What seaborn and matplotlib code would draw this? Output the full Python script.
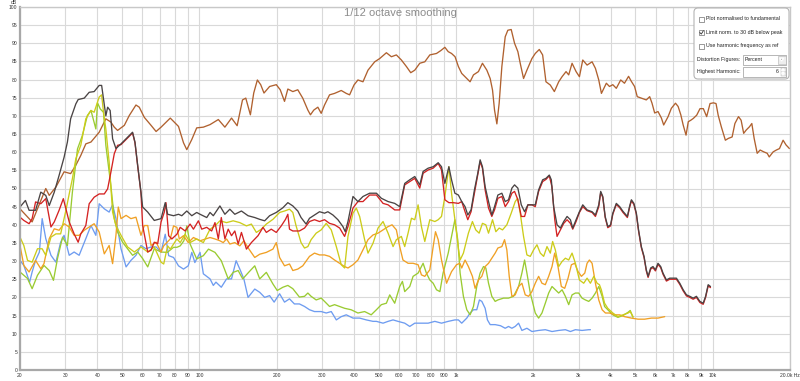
import matplotlib
matplotlib.use('Agg')
import matplotlib.pyplot as plt
from matplotlib.patches import FancyBboxPatch, Rectangle, Polygon
from matplotlib.ticker import NullLocator
import pandas as pd
import seaborn as sns

# (frequency Hz, level dB)
FUND = [(20, 44.4), (22.3, 40.8), (25.2, 50.0), (26.0, 48.1), (27.6, 50.4), (29.7, 54.6), (31.5, 54.1),
        (33.0, 56.4), (34.5, 59.1), (36.1, 62.3), (37.8, 62.8), (40.7, 65.5), (43.2, 69.2), (45.2, 68.3),
        (46.6, 66.9), (48.0, 66.0), (51.0, 67.4), (53.3, 70.1), (56.6, 73.0), (58.3, 72.4), (61.0, 69.6),
        (64.8, 67.4), (67.8, 65.7), (70.9, 66.9), (77.0, 69.4), (82.9, 67.1), (86.7, 62.6), (89.3, 60.7),
        (93.4, 63.5), (97.6, 66.7), (103.6, 66.9), (110, 67.6), (118.5, 69.0), (125.7, 66.9), (133.4, 69.4),
        (140.3, 67.3), (147.2, 74.4), (151.6, 74.9), (158, 70.3), (162.8, 76.3), (168.2, 79.9), (173.3, 78.6),
        (178.5, 76.3), (187.7, 78.1), (199.3, 78.6), (206.5, 77.2), (214.6, 74.0), (221.1, 77.4), (231.2, 76.7),
        (241.7, 77.2), (252.7, 74.9), (264.6, 71.6), (270.8, 70.3), (279.0, 71.6), (289.4, 72.4), (298.2, 70.7),
        (307.3, 73.0), (321.4, 75.8), (336.2, 76.2), (357.0, 77.0), (373.4, 76.2), (384.8, 75.8), (400.1, 78.5),
        (414.6, 79.9), (433.8, 79.4), (453.8, 82.6), (481.9, 84.9), (504.0, 85.8), (535.2, 87.4), (559.8, 86.3),
        (585.3, 86.8), (612.2, 85.4), (640.5, 83.6), (665.9, 81.9), (690.4, 82.6), (722.1, 84.5), (755.3, 84.9),
        (790.2, 86.8), (839.1, 87.2), (872.3, 88.0), (904.4, 88.9), (932.0, 87.7), (960.2, 87.2), (991, 86.3),
        (1021, 83.6), (1052, 81.7), (1101, 80.3), (1134, 79.4), (1169, 81.3), (1222, 82.2), (1267, 84.5),
        (1318, 82.6), (1358, 80.3), (1387, 77.1), (1412, 71.6), (1442, 67.8), (1472, 73.5), (1508, 83.6),
        (1554, 91.8), (1591, 93.6), (1640, 93.8), (1690, 90.0), (1741, 87.7), (1778, 84.5), (1832, 80.3),
        (1888, 82.6), (1975, 85.8), (2035, 87.2), (2110, 88.3), (2174, 86.8), (2240, 79.4), (2329, 78.5),
        (2415, 76.7), (2511, 79.4), (2588, 80.8), (2682, 82.2), (2747, 81.3), (2831, 84.5), (2935, 82.2),
        (3024, 80.8), (3116, 85.4), (3239, 84.0), (3388, 84.9), (3491, 83.1), (3597, 79.9), (3684, 76.2),
        (3850, 79.0), (3960, 78.1), (4080, 78.6), (4210, 77.6), (4380, 79.9), (4530, 79.0), (4700, 80.9),
        (4820, 79.5), (4960, 78.1), (5080, 75.3), (5270, 74.9), (5510, 74.4), (5680, 75.3), (5800, 73.5),
        (5940, 70.8), (6120, 71.2), (6310, 69.4), (6440, 67.5), (6700, 69.8), (6900, 72.1), (7160, 73.5),
        (7330, 72.6), (7510, 70.3), (7670, 67.5), (7870, 64.7), (8030, 68.4), (8210, 68.8), (8400, 69.3),
        (8660, 70.2), (8920, 72.0), (9190, 72.0), (9470, 69.8), (9760, 73.4), (10060, 73.6), (10300, 73.4),
        (10500, 70.2), (10800, 67.0), (11200, 63.3), (11500, 63.8), (11900, 64.2), (12200, 67.9), (12600, 69.8),
        (12900, 68.8), (13200, 65.2), (13500, 66.1), (13900, 67.0), (14200, 67.9), (14500, 63.8), (14900, 59.7),
        (15300, 60.6), (15800, 60.1), (16300, 59.7), (16600, 58.7), (17200, 60.1), (17700, 60.6), (18200, 61.0),
        (18800, 63.3), (19300, 62.0), (19900, 61.0)]

THD = [(20, 44.9), (21.0, 46.7), (21.7, 44.0), (23.0, 44.0), (24.1, 49.0), (25.2, 48.1), (26.0, 45.3),
       (27.2, 49.0), (28.4, 53.6), (29.7, 58.6), (30.6, 62.8), (31.5, 69.2), (33.0, 73.3), (33.7, 74.5),
       (35.6, 74.9), (37.2, 76.5), (38.9, 76.7), (40.7, 78.4), (41.6, 78.4), (42.3, 74.7), (43.2, 70.0),
       (43.9, 72.4), (44.9, 71.5), (45.9, 63.7), (47.3, 61.0), (49.5, 62.3), (51.8, 63.7), (54.9, 65.5),
       (56.1, 62.8), (57.5, 56.3), (59.2, 49.0), (60.1, 44.9), (62.9, 43.5), (66.7, 41.2), (70.9, 41.7),
       (73.6, 46.1), (75.2, 42.9), (79.3, 42.5), (82.9, 42.9), (85.4, 42.5), (89.3, 43.8), (93.4, 42.5),
       (97.6, 43.4), (100.6, 42.9), (106.8, 42.0), (110, 43.4), (113.3, 42.5), (120.2, 45.2), (125.7, 42.9),
       (131.4, 44.3), (137.4, 42.9), (145.8, 43.8), (154.7, 42.5), (164.3, 42.0), (171.8, 41.5), (179.6, 41.1),
       (187.7, 42.5), (199.3, 43.4), (211.5, 44.7), (221.1, 46.1), (231.2, 45.2), (241.7, 43.8), (248.9, 42.0),
       (260.4, 40.2), (268.5, 41.8), (280.8, 42.7), (293.8, 43.6), (307.3, 43.2), (316.6, 43.6), (331.3, 42.7),
       (346.5, 41.4), (362.5, 39.5), (370.0, 38.1), (379.2, 40.9), (396.6, 47.8), (414.6, 46.4), (433.8, 47.8),
       (460.6, 48.7), (489.4, 48.7), (511.6, 47.3), (543.4, 46.4), (576.7, 45.9), (603.2, 45.0), (630.9, 51.4),
       (660.0, 52.4), (690.4, 53.3), (722.1, 51.0), (744.0, 54.7), (778.4, 55.6), (814.3, 56.0), (851.8, 57.1),
       (877.6, 56.0), (904.4, 51.4), (937.5, 56.0), (960.2, 52.4), (989.4, 48.7), (1021, 48.2), (1052, 46.4),
       (1084, 45.0), (1111, 42.7), (1144, 44.1), (1179, 49.6), (1215, 54.2), (1241, 57.9), (1267, 56.0),
       (1298, 50.5), (1338, 46.4), (1378, 42.7), (1412, 45.0), (1455, 48.2), (1508, 48.7), (1554, 46.4),
       (1601, 46.9), (1650, 50.1), (1690, 51.0), (1741, 50.1), (1795, 45.5), (1849, 43.6), (1905, 45.5),
       (1975, 45.5), (2035, 45.5), (2097, 49.6), (2174, 52.4), (2240, 52.8), (2308, 53.7), (2350, 52.4),
       (2400, 45.0), (2474, 40.0), (2549, 39.1), (2627, 40.9), (2707, 42.3), (2789, 41.4), (2848, 39.1),
       (2935, 41.4), (3024, 43.6), (3116, 45.5), (3239, 44.1), (3388, 43.6), (3491, 42.7), (3597, 45.5),
       (3660, 49.2), (3730, 47.8), (3810, 42.3), (3900, 39.5), (4000, 40.0), (4080, 43.2), (4210, 45.9),
       (4340, 45.0), (4470, 43.7), (4650, 42.3), (4740, 45.0), (4820, 46.9), (4930, 45.9), (5040, 43.2),
       (5140, 38.6), (5270, 34.0), (5400, 31.3), (5510, 27.6), (5600, 25.8), (5730, 28.1), (5850, 28.5),
       (5980, 27.6), (6120, 29.4), (6270, 28.5), (6400, 26.7), (6600, 24.8), (6800, 25.3), (7010, 25.3),
       (7220, 25.3), (7440, 23.9), (7670, 22.1), (7900, 20.7), (8140, 20.3), (8390, 19.8), (8640, 20.3),
       (8910, 18.9), (9180, 18.4), (9380, 20.3), (9600, 23.5), (9800, 23.0)]

H2 = [(20, 42.1), (20.7, 41.2), (21.7, 40.3), (22.3, 41.7), (23.0, 46.3), (24.1, 45.8), (25.2, 47.2),
      (26.4, 39.4), (27.2, 40.8), (28.4, 44.0), (29.5, 47.2), (30.2, 44.4), (31.1, 40.8), (32.5, 37.5),
      (33.7, 35.2), (34.5, 37.5), (36.1, 39.8), (37.2, 45.8), (38.9, 47.6), (40.7, 48.5), (42.6, 48.5),
      (43.9, 49.9), (45.2, 54.5), (46.6, 59.6), (48.0, 61.9), (49.5, 62.1), (51.8, 63.5), (54.9, 65.3),
      (56.1, 62.6), (57.5, 56.1), (59.2, 48.8), (60.1, 39.8), (62.9, 32.5), (64.8, 33.0), (66.7, 35.2),
      (68.8, 34.8), (70.9, 40.8), (73.0, 43.5), (74.1, 46.1), (75.9, 37.0), (78.1, 36.1), (81.7, 37.4),
      (84.2, 39.3), (88.0, 38.3), (92.0, 40.2), (94.8, 38.8), (99.1, 41.1), (102.1, 38.8), (106.8, 39.3),
      (111.6, 38.3), (115, 40.6), (118.5, 36.1), (121.7, 42.0), (125.7, 36.1), (129.5, 38.8), (133.4, 37.0),
      (137.4, 38.3), (141.6, 34.7), (145.8, 37.9), (152.5, 33.3), (159.4, 35.1), (169.2, 37.0), (176.9, 39.3),
      (182.3, 37.9), (190.5, 38.8), (199.3, 37.9), (208.4, 39.7), (216.5, 41.5), (221.1, 42.9), (224.4, 38.8),
      (231.2, 38.3), (245.3, 38.3), (256.8, 39.1), (268.5, 40.9), (280.8, 41.4), (293.8, 40.9), (307.3, 41.4),
      (321.4, 40.4), (336.2, 40.0), (352, 39.1), (367.9, 36.8), (379.2, 39.5), (396.6, 44.6), (414.6, 46.4),
      (433.8, 46.4), (460.6, 48.2), (489.4, 48.2), (519.4, 45.9), (543.4, 45.5), (576.7, 44.1), (603.2, 44.1),
      (630.9, 51.0), (660.0, 51.9), (690.4, 52.8), (722.1, 50.1), (744.0, 54.2), (778.4, 55.1), (814.3, 55.6),
      (851.8, 56.9), (877.6, 55.1), (904.4, 46.9), (937.5, 46.1), (975, 46.1), (1021, 45.9), (1052, 46.4),
      (1084, 43.6), (1111, 41.4), (1144, 43.6), (1179, 48.7), (1215, 53.7), (1241, 57.4), (1267, 55.6),
      (1298, 49.6), (1338, 44.6), (1378, 42.3), (1412, 44.1), (1455, 47.3), (1508, 47.8), (1554, 45.0),
      (1601, 46.4), (1650, 48.7), (1690, 49.2), (1741, 46.9), (1795, 42.3), (1849, 42.3), (1905, 45.5),
      (1975, 45.5), (2035, 45.0), (2097, 49.2), (2174, 51.9), (2240, 52.5), (2308, 53.5), (2363, 50.5),
      (2424, 41.4), (2474, 36.8), (2549, 38.6), (2627, 40.4), (2707, 41.4), (2789, 40.4), (2848, 38.8),
      (2935, 40.9), (3024, 43.4), (3116, 45.0), (3239, 43.9), (3388, 43.4), (3491, 42.3), (3597, 45.0),
      (3660, 48.9), (3730, 47.5), (3810, 42.0), (3900, 39.2), (4000, 39.7), (4080, 42.9), (4210, 45.6),
      (4340, 44.7), (4470, 43.4), (4650, 42.0), (4740, 44.7), (4820, 46.6), (4930, 45.6), (5040, 42.9),
      (5140, 38.3), (5270, 33.7), (5400, 31.0), (5510, 27.3), (5600, 25.5), (5730, 27.8), (5850, 28.2),
      (5980, 27.3), (6120, 29.1), (6270, 28.2), (6400, 26.4), (6600, 24.5), (6800, 25.0), (7010, 25.0),
      (7220, 25.0), (7440, 23.6), (7670, 21.8), (7900, 20.4), (8140, 20.0), (8390, 19.5), (8640, 20.0),
      (8910, 18.6), (9180, 18.1), (9380, 20.0), (9600, 23.2), (9800, 22.7)]

H3 = [(20, 36.6), (20.7, 34.3), (21.4, 30.2), (22.3, 29.7), (23.4, 33.4), (24.4, 33.4), (25.2, 31.6),
      (26.4, 36.6), (27.6, 37.5), (28.8, 37.5), (30.2, 44.0), (31.1, 48.5), (32.0, 52.7), (33.0, 58.2),
      (34.5, 61.9), (36.1, 69.2), (37.8, 71.5), (38.9, 71.0), (40.7, 75.2), (41.6, 75.8), (42.3, 71.0),
      (43.2, 66.4), (44.5, 57.3), (45.9, 43.5), (47.3, 39.8), (49.5, 37.1), (52.5, 33.9), (55.8, 32.5),
      (59.2, 33.9), (62.9, 32.5), (66.7, 33.9), (70.9, 29.7), (72.6, 29.2), (75.2, 34.2), (77.0, 33.3),
      (81.7, 36.1), (84.2, 35.1), (88.0, 37.4), (92.0, 35.1), (97.6, 36.1), (103.6, 35.1), (110, 38.8),
      (115, 39.7), (120.2, 41.1), (127.6, 40.6), (135.4, 41.1), (143.7, 40.6), (152.5, 39.7), (159.4, 40.2),
      (166.7, 37.9), (174.3, 38.8), (182.3, 40.2), (193.4, 41.5), (205.3, 43.4), (214.6, 43.8), (224.4, 44.3),
      (231.2, 43.4), (238.1, 39.7), (248.9, 35.1), (256.8, 33.6), (264.6, 34.0), (272.4, 35.9), (285.1, 37.7),
      (298.2, 38.6), (312.0, 40.4), (326.4, 38.6), (341.5, 34.0), (357.0, 29.0), (367.9, 28.1), (379.2, 36.8),
      (396.6, 43.2), (408.7, 44.6), (421.0, 42.3), (440.3, 35.9), (453.8, 32.2), (474.6, 34.9), (496.5, 39.1),
      (519.4, 40.9), (543.4, 37.7), (568.2, 34.0), (585.3, 35.9), (612.2, 36.8), (630.9, 34.0), (650.1, 37.7),
      (670.2, 41.8), (690.4, 41.4), (711.3, 45.5), (733.0, 39.5), (755.3, 35.4), (790.2, 41.4), (826.6, 40.9),
      (851.8, 41.4), (877.6, 42.3), (904.4, 47.8), (937.5, 56.0), (960.2, 48.7), (995.4, 40.0), (1021, 33.5),
      (1037, 30.3), (1068, 32.2), (1117, 37.7), (1158, 40.9), (1193, 38.6), (1230, 37.7), (1267, 40.4),
      (1306, 40.0), (1338, 37.7), (1387, 41.4), (1429, 38.1), (1472, 39.1), (1517, 38.6), (1577, 40.0),
      (1640, 43.2), (1700, 46.4), (1736, 47.3), (1778, 43.2), (1832, 36.8), (1888, 31.7), (1946, 31.3),
      (2005, 33.1), (2066, 34.5), (2129, 32.2), (2194, 31.3), (2261, 34.0), (2329, 32.2), (2378, 35.4),
      (2436, 33.1), (2511, 28.5), (2588, 29.9), (2666, 30.8), (2747, 30.3), (2831, 32.2), (2917, 29.4),
      (3024, 24.8), (3143, 23.9), (3239, 25.3), (3337, 23.9), (3440, 25.8), (3544, 23.9), (3619, 23.5),
      (3680, 22.1), (3790, 18.4), (3900, 17.0), (4080, 15.7), (4270, 14.7), (4470, 15.2), (4680, 15.7),
      (4770, 16.1), (4890, 14.7)]

H4 = [(20, 34.3), (20.7, 28.8), (21.7, 27.0), (23.0, 30.2), (24.1, 27.9), (24.8, 29.3), (26.0, 36.2),
      (27.2, 38.9), (28.4, 38.5), (29.7, 40.3), (31.1, 39.4), (32.5, 37.1), (34.0, 37.1), (35.6, 38.5),
      (37.2, 39.4), (38.9, 40.3), (40.7, 38.0), (42.6, 32.0), (44.5, 34.3), (45.9, 29.3), (47.3, 37.1),
      (48.3, 44.9), (49.5, 41.7), (51.8, 42.6), (54.1, 41.7), (56.6, 42.1), (59.2, 37.1), (61.0, 39.8),
      (62.9, 39.8), (64.8, 34.3), (67.8, 35.2), (70.9, 32.5), (72.6, 34.2), (77, 36.1), (79.3, 39.7),
      (81.7, 39.3), (83.5, 36.1), (86.7, 37.0), (90.5, 35.1), (94.8, 36.5), (100.6, 35.6), (110, 36.5),
      (115, 36.1), (120.2, 35.6), (123.8, 35.1), (127.6, 36.1), (131.4, 34.7), (137.4, 35.1), (143.7, 34.2),
      (149.0, 35.6), (156.0, 33.3), (164.3, 31.0), (171.8, 31.9), (182.3, 32.4), (193.4, 33.3), (199.3, 35.1),
      (205.3, 31.0), (214.6, 28.7), (224.4, 29.2), (231.2, 27.4), (241.7, 27.8), (252.7, 28.7), (256.8, 29.4),
      (268.5, 31.3), (280.8, 32.2), (293.8, 31.7), (307.3, 31.7), (321.4, 31.3), (336.2, 30.3), (352, 29.4),
      (367.9, 28.5), (379.2, 28.1), (396.6, 29.0), (414.6, 30.3), (433.8, 33.1), (453.8, 35.9), (474.6, 37.2),
      (496.5, 37.7), (519.4, 38.6), (543.4, 39.5), (563.1, 40.0), (585.3, 38.6), (603.2, 34.0), (621, 30.3),
      (650.1, 29.4), (680, 29.4), (711.3, 29.0), (733.0, 26.2), (755.3, 25.8), (790.2, 27.6), (814.3, 34.0),
      (831.4, 38.1), (851.8, 35.9), (877.6, 30.3), (918.1, 23.9), (960.2, 27.1), (1004, 29.0), (1035, 29.4),
      (1052, 28.1), (1084, 30.3), (1117, 28.5), (1158, 25.8), (1186, 22.5), (1222, 24.8), (1260, 25.8),
      (1298, 28.5), (1338, 29.4), (1378, 30.8), (1420, 32.2), (1455, 33.6), (1508, 34.0), (1545, 35.9),
      (1577, 33.1), (1611, 25.8), (1650, 20.3), (1700, 20.7), (1752, 23.0), (1805, 23.9), (1860, 20.7),
      (1917, 20.3), (1975, 21.6), (2035, 23.9), (2097, 25.8), (2161, 23.9), (2227, 23.5), (2295, 25.8),
      (2365, 28.5), (2422, 32.2), (2495, 28.5), (2571, 23.0), (2650, 22.5), (2731, 25.3), (2814, 29.0),
      (2900, 29.4), (2988, 27.1), (3079, 25.8), (3173, 26.7), (3239, 29.4), (3307, 30.3), (3388, 29.4),
      (3491, 23.9), (3597, 19.3), (3707, 16.6), (3819, 15.7), (3960, 15.7), (4150, 15.2), (4340, 15.2),
      (4530, 14.7), (4820, 14.3), (5120, 14.0), (5430, 14.0), (5770, 14.3), (6120, 14.3), (6500, 14.7)]

H5 = [(20, 27.0), (21.4, 25.2), (22.3, 22.4), (23.4, 26.1), (24.8, 28.8), (26.0, 27.4), (27.0, 24.7),
      (28.0, 30.7), (29.3, 36.6), (30.6, 34.3), (32.0, 49.0), (33.5, 60.9), (35.0, 64.6), (36.6, 70.1),
      (37.8, 71.5), (39.5, 66.4), (40.1, 73.6), (41.1, 71.9), (42.3, 71.0), (43.2, 61.9), (45.2, 50.8),
      (46.6, 41.7), (48.0, 38.0), (50.2, 35.2), (52.5, 33.4), (54.9, 31.6), (57.5, 32.5), (60.1, 30.7),
      (62.9, 28.4), (66.7, 33.4), (70.9, 32.5), (75, 32.4), (79.3, 33.8), (81.7, 33.8), (84.2, 34.2),
      (87, 35.6), (89.3, 39.7), (92.0, 34.7), (97.6, 30.6), (103.6, 31.5), (108.5, 33.3), (115, 32.4),
      (121.7, 30.1), (129.5, 25.1), (135.4, 26.9), (141.6, 27.4), (147.5, 25.1), (155.5, 26.9), (164.3, 28.7),
      (171.8, 25.1), (182.3, 26.9), (193.4, 23.7), (201, 21.9), (211.5, 22.8), (221.1, 23.3), (231.2, 22.4),
      (245.3, 20.1), (256.8, 20.3), (264.6, 21.2), (272.4, 20.3), (285.1, 19.3), (298.2, 19.8), (307.3, 18.9),
      (321.4, 17.5), (336.2, 18.0), (352, 17.5), (367.9, 17.0), (390, 16.6), (414.6, 15.7), (440.3, 16.1),
      (467, 15.2), (489.4, 16.6), (511.6, 18.0), (535.2, 18.4), (551.5, 20.7), (576.7, 18.4), (603.2, 23.0),
      (618, 24.4), (630.9, 21.6), (660.0, 23.0), (680.0, 25.8), (711.3, 26.7), (744.0, 29.4), (766, 26.7),
      (790.2, 24.8), (814.3, 23.9), (839.1, 22.1), (865, 21.6), (890, 26.7), (932.0, 32.2), (960.2, 36.8),
      (989.4, 41.4), (1015, 35.9), (1037, 26.7), (1068, 20.3), (1101, 16.6), (1134, 15.2), (1169, 17.5),
      (1204, 23.0), (1241, 26.7), (1279, 28.5), (1306, 28.1), (1338, 23.9), (1378, 20.3), (1420, 18.9),
      (1455, 19.3), (1531, 19.8), (1601, 19.8), (1675, 20.3), (1752, 23.0), (1805, 26.7), (1849, 30.3),
      (1888, 26.7), (1946, 21.2), (2035, 15.7), (2097, 14.3), (2161, 15.7), (2227, 18.4), (2295, 21.2),
      (2365, 23.0), (2436, 22.1), (2511, 21.2), (2588, 22.1), (2666, 20.3), (2747, 18.0), (2831, 20.7),
      (2917, 21.2), (3005, 21.2), (3096, 19.8), (3191, 19.3), (3288, 18.9), (3388, 19.8), (3491, 21.2),
      (3597, 23.0), (3707, 20.3), (3790, 17.5), (3900, 16.6), (4080, 15.2), (4270, 14.5), (4470, 15.0),
      (4680, 15.9), (4770, 16.4), (4890, 14.5)]

H6 = [(20, 30.2), (20.7, 28.8), (21.8, 24.2), (22.3, 27.0), (23.0, 30.2), (23.8, 32.5), (24.4, 41.7),
      (25.2, 36.2), (26.4, 31.6), (27.6, 29.7), (28.8, 35.2), (29.7, 37.1), (31.1, 31.6), (32.5, 32.5),
      (34.0, 31.6), (36.1, 36.2), (37.8, 39.8), (39.5, 37.1), (40.7, 45.8), (42.6, 44.4), (44.5, 43.5),
      (45.9, 45.5), (47.3, 41.7), (49.5, 33.4), (51.8, 28.4), (54.1, 30.2), (56.6, 31.6), (59.2, 34.3),
      (61.9, 33.4), (64.8, 33.9), (67.8, 33.9), (70.9, 32.5), (73.6, 37.4), (75.9, 31.5), (79.3, 31.0),
      (82.9, 28.7), (86.7, 27.8), (90.5, 28.7), (93.4, 32.4), (96, 29.6), (100.6, 32.4), (103.6, 26.5),
      (110, 25.1), (113.3, 23.3), (116, 24.2), (121.7, 22.8), (127.6, 25.1), (133.4, 25.1), (139, 30.1),
      (143.7, 27.8), (149.0, 25.1), (154.7, 20.0), (164.3, 22.3), (171.8, 21.4), (179.6, 20.0), (187.7, 20.5),
      (195.5, 18.7), (205.3, 21.0), (214.6, 18.7), (224.4, 19.6), (234.5, 18.2), (245.3, 18.2), (256.8, 17.5),
      (268.5, 16.6), (280.8, 16.1), (298.2, 16.1), (312, 15.7), (326.4, 16.1), (341.5, 13.8), (357, 14.7),
      (373.4, 15.2), (396.6, 14.3), (421, 14.3), (447, 13.8), (474.6, 13.4), (489.4, 13.4), (519.4, 12.9),
      (543.4, 13.4), (568.2, 13.8), (594, 13.4), (630.9, 12.9), (660, 12.0), (690.4, 12.9), (733, 12.9),
      (778.4, 12.9), (826.6, 13.4), (877.6, 12.9), (932, 13.4), (989.4, 13.8), (1021, 13.8), (1052, 12.9),
      (1101, 14.3), (1134, 15.7), (1169, 16.6), (1204, 16.6), (1233, 19.3), (1260, 18.9), (1298, 17.0),
      (1325, 13.8), (1358, 12.5), (1420, 12.5), (1490, 12.2), (1554, 11.5), (1601, 12.0), (1650, 11.5),
      (1700, 12.0), (1752, 12.9), (1805, 10.9), (1888, 11.5), (1975, 10.6), (2097, 10.9), (2227, 11.1),
      (2365, 10.6), (2511, 10.9), (2666, 11.1), (2789, 10.6), (2917, 11.1), (3096, 10.9), (3288, 11.1),
      (3338, 11.1)]

x_ticks = [20, 30, 40, 50, 60, 70, 80, 90, 100, 200, 300, 400, 500, 600, 700, 800, 900,
           1000, 2000, 3000, 4000, 5000, 6000, 7000, 8000, 9000, 10000, 20000]
x_labels = ['20', '30', '40', '50', '60', '70', '80', '90', '100', '200', '300', '400', '500', '600',
            '700', '800', '900', '1k', '2k', '3k', '4k', '5k', '6k', '7k', '8k', '9k', '10k', '20.0k Hz']
y_ticks = list(range(0, 101, 5))

traces = ['Fundamental', 'H6', 'H5', 'H4', 'H3', 'H2', 'THD']
colours = {'Fundamental': '#b0612f', 'THD': '#4a4444', 'H2': '#d42222', 'H3': '#cccc1a',
           'H4': '#f0a024', 'H5': '#9acb32', 'H6': '#6e9cf0'}
series = {'Fundamental': FUND, 'THD': THD, 'H2': H2, 'H3': H3, 'H4': H4, 'H5': H5, 'H6': H6}

frames = []
for name in traces:
    d = pd.DataFrame(series[name], columns=['freq', 'dB'])
    d['trace'] = name
    frames.append(d)
df = pd.concat(frames, ignore_index=True)

sns.set_style('white')
plt.rcParams['font.family'] = ['Liberation Sans', 'DejaVu Sans']

fig = plt.figure(figsize=(8, 3.81), dpi=100)
ax = fig.add_axes([20 / 800, 11 / 381, 770 / 800, 363 / 381])

sns.lineplot(data=df, x='freq', y='dB', hue='trace', hue_order=traces, palette=colours,
             sort=False, estimator=None, legend=False, linewidth=0.95, ax=ax)

ax.set_xscale('log')
ax.set_xlim(20, 20000)
ax.set_ylim(0, 100)
ax.set_xticks(x_ticks)
ax.set_xticklabels(x_labels)
ax.xaxis.set_minor_locator(NullLocator())
ax.set_yticks(y_ticks)
ax.set_yticklabels([str(v) for v in y_ticks])
ax.tick_params(axis='both', length=0, labelsize=3.6, colors='#333333')
ax.tick_params(axis='x', pad=2.5)
ax.tick_params(axis='y', pad=2)
ax.set_xlabel('')
ax.set_ylabel('')
ax.grid(True, color='#d9d9d9', linewidth=0.8)
ax.set_axisbelow(True)
for side in ['top', 'right']:
    ax.spines[side].set_color('#c8c8c8')
    ax.spines[side].set_linewidth(1.0)
for side in ['left', 'bottom']:
    ax.spines[side].set_color('#a8a8a8')
    ax.spines[side].set_linewidth(1.6)

# overlay in pixel coordinates for the title and the REW control panel
ov = fig.add_axes([0, 0, 1, 1])
ov.set_xlim(0, 800)
ov.set_ylim(381, 0)
ov.axis('off')
ov.patch.set_alpha(0)

ov.text(400, 13, '1/12 octave smoothing', ha='center', va='center', fontsize=8, color='#8c8c8c')
ov.text(11, 3, 'dB', ha='left', va='center', fontsize=3.6, color='#333333')

ov.add_patch(FancyBboxPatch((694, 8), 95, 71, boxstyle='round,pad=0,rounding_size=4',
                            facecolor='white', edgecolor='#b4b4b4', linewidth=0.8))
checks = [('Plot normalised to fundamental', 19, False),
          ('Limit norm. to 30 dB below peak', 32.5, True),
          ('Use harmonic frequency as ref', 46, False)]
for label, yy, ticked in checks:
    ov.add_patch(Rectangle((699, yy - 2.5), 5, 5, facecolor='white', edgecolor='#707070', linewidth=0.5))
    if ticked:
        ov.plot([699.8, 701.3, 703.4], [yy, yy + 1.6, yy - 1.8], color='#303030', linewidth=0.6)
    ov.text(706, yy, label, ha='left', va='center', fontsize=3.8, color='#222222')

ov.text(697, 59.5, 'Distortion Figures:', ha='left', va='center', fontsize=3.8, color='#222222')
ov.add_patch(Rectangle((743, 55), 43, 9.5, facecolor='white', edgecolor='#9a9a9a', linewidth=0.5))
ov.add_patch(Rectangle((778, 55.5), 7.5, 8.5, facecolor='#eeeeee', edgecolor='#b0b0b0', linewidth=0.4))
ov.add_patch(Polygon([[779.8, 58.2], [783.6, 58.2], [781.7, 61.0]], closed=True, facecolor='#444444'))
ov.text(745, 59.8, 'Percent', ha='left', va='center', fontsize=3.8, color='#222222')

ov.text(697, 71.5, 'Highest Harmonic:', ha='left', va='center', fontsize=3.8, color='#222222')
ov.add_patch(Rectangle((743, 67), 43, 9.5, facecolor='white', edgecolor='#9a9a9a', linewidth=0.5))
ov.text(779, 71.8, '6', ha='right', va='center', fontsize=3.8, color='#222222')
ov.add_patch(Rectangle((780.5, 67.5), 5, 4.2, facecolor='#eeeeee', edgecolor='#b0b0b0', linewidth=0.3))
ov.add_patch(Rectangle((780.5, 71.8), 5, 4.2, facecolor='#eeeeee', edgecolor='#b0b0b0', linewidth=0.3))
ov.add_patch(Polygon([[781.6, 70.8], [784.4, 70.8], [783.0, 68.6]], closed=True, facecolor='#444444'))
ov.add_patch(Polygon([[781.6, 72.7], [784.4, 72.7], [783.0, 74.9]], closed=True, facecolor='#444444'))

fig.savefig('out.png', dpi=100)
